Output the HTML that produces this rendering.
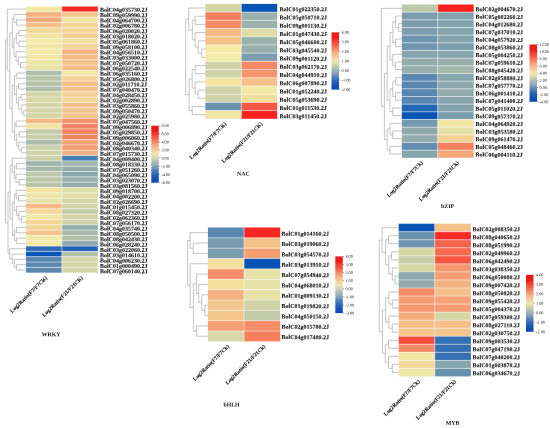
<!DOCTYPE html>
<html><head><meta charset="utf-8"><style>
html,body{margin:0;padding:0;background:#fff;width:550px;height:428px;overflow:hidden}
svg{filter:blur(0.3px)}
text{font-family:"Liberation Serif",serif;text-rendering:geometricPrecision}
.l{font-size:6px;font-weight:bold;fill:#111;stroke:#111;stroke-width:0.08}
.c{font-size:5.45px;font-weight:bold;fill:#111;stroke:#111;stroke-width:0.08}
.t{font-size:5.8px;font-weight:bold;fill:#111}
.g{font-size:4.2px;fill:#222}
</style></head><body>
<svg width="550" height="428" viewBox="0 0 550 428" style="display:block"><rect width="550" height="428" fill="#fff"/><defs><linearGradient id="gWRKY" x1="0" y1="0" x2="0" y2="1"><stop offset="0" stop-color="#ee1a1a"/><stop offset="0.1" stop-color="#f01c1c"/><stop offset="0.14" stop-color="#f23a2a"/><stop offset="0.22" stop-color="#f46048"/><stop offset="0.29" stop-color="#f58a68"/><stop offset="0.36" stop-color="#f5b088"/><stop offset="0.44" stop-color="#f4d0a0"/><stop offset="0.5" stop-color="#f0e6b0"/><stop offset="0.57" stop-color="#d0d4b0"/><stop offset="0.64" stop-color="#a8b8b8"/><stop offset="0.71" stop-color="#8aa4b8"/><stop offset="0.77" stop-color="#5c84bc"/><stop offset="0.85" stop-color="#2c64b8"/><stop offset="0.93" stop-color="#1450b4"/><stop offset="1.0" stop-color="#0848b0"/></linearGradient><linearGradient id="gNAC" x1="0" y1="0" x2="0" y2="1"><stop offset="0" stop-color="#ee1a1a"/><stop offset="0.1" stop-color="#f01c1c"/><stop offset="0.14" stop-color="#f23a2a"/><stop offset="0.22" stop-color="#f46048"/><stop offset="0.29" stop-color="#f58a68"/><stop offset="0.36" stop-color="#f5b088"/><stop offset="0.44" stop-color="#f4d0a0"/><stop offset="0.5" stop-color="#f0e6b0"/><stop offset="0.57" stop-color="#d0d4b0"/><stop offset="0.64" stop-color="#a8b8b8"/><stop offset="0.71" stop-color="#8aa4b8"/><stop offset="0.77" stop-color="#5c84bc"/><stop offset="0.85" stop-color="#2c64b8"/><stop offset="0.93" stop-color="#1450b4"/><stop offset="1.0" stop-color="#0848b0"/></linearGradient><linearGradient id="gbZIP" x1="0" y1="0" x2="0" y2="1"><stop offset="0" stop-color="#ee1a1a"/><stop offset="0.1" stop-color="#f01c1c"/><stop offset="0.14" stop-color="#f23a2a"/><stop offset="0.22" stop-color="#f46048"/><stop offset="0.29" stop-color="#f58a68"/><stop offset="0.36" stop-color="#f5b088"/><stop offset="0.44" stop-color="#f4d0a0"/><stop offset="0.5" stop-color="#f0e6b0"/><stop offset="0.57" stop-color="#d0d4b0"/><stop offset="0.64" stop-color="#a8b8b8"/><stop offset="0.71" stop-color="#8aa4b8"/><stop offset="0.77" stop-color="#5c84bc"/><stop offset="0.85" stop-color="#2c64b8"/><stop offset="0.93" stop-color="#1450b4"/><stop offset="1.0" stop-color="#0848b0"/></linearGradient><linearGradient id="gbHLH" x1="0" y1="0" x2="0" y2="1"><stop offset="0" stop-color="#ee1a1a"/><stop offset="0.1" stop-color="#f01c1c"/><stop offset="0.14" stop-color="#f23a2a"/><stop offset="0.22" stop-color="#f46048"/><stop offset="0.29" stop-color="#f58a68"/><stop offset="0.36" stop-color="#f5b088"/><stop offset="0.44" stop-color="#f4d0a0"/><stop offset="0.5" stop-color="#f0e6b0"/><stop offset="0.57" stop-color="#d0d4b0"/><stop offset="0.64" stop-color="#a8b8b8"/><stop offset="0.71" stop-color="#8aa4b8"/><stop offset="0.77" stop-color="#5c84bc"/><stop offset="0.85" stop-color="#2c64b8"/><stop offset="0.93" stop-color="#1450b4"/><stop offset="1.0" stop-color="#0848b0"/></linearGradient><linearGradient id="gMYB" x1="0" y1="0" x2="0" y2="1"><stop offset="0" stop-color="#ee1a1a"/><stop offset="0.1" stop-color="#f01c1c"/><stop offset="0.14" stop-color="#f23a2a"/><stop offset="0.22" stop-color="#f46048"/><stop offset="0.29" stop-color="#f58a68"/><stop offset="0.36" stop-color="#f5b088"/><stop offset="0.44" stop-color="#f4d0a0"/><stop offset="0.5" stop-color="#f0e6b0"/><stop offset="0.57" stop-color="#d0d4b0"/><stop offset="0.64" stop-color="#a8b8b8"/><stop offset="0.71" stop-color="#8aa4b8"/><stop offset="0.77" stop-color="#5c84bc"/><stop offset="0.85" stop-color="#2c64b8"/><stop offset="0.93" stop-color="#1450b4"/><stop offset="1.0" stop-color="#0848b0"/></linearGradient></defs><rect x="26.00" y="6.50" width="35.90" height="5.32" fill="#f3eaa6"/><rect x="61.90" y="6.50" width="35.90" height="5.32" fill="#f82623"/><rect x="26.00" y="11.82" width="35.90" height="5.32" fill="#f4b482"/><rect x="61.90" y="11.82" width="35.90" height="5.32" fill="#f4c58d"/><rect x="26.00" y="17.15" width="35.90" height="5.32" fill="#f4ac7d"/><rect x="61.90" y="17.15" width="35.90" height="5.32" fill="#f3e6a3"/><rect x="26.00" y="22.47" width="35.90" height="5.32" fill="#f4c18a"/><rect x="61.90" y="22.47" width="35.90" height="5.32" fill="#f4d598"/><rect x="26.00" y="27.80" width="35.90" height="5.32" fill="#f3da9b"/><rect x="61.90" y="27.80" width="35.90" height="5.32" fill="#f4d598"/><rect x="26.00" y="33.12" width="35.90" height="5.32" fill="#f3e4a2"/><rect x="61.90" y="33.12" width="35.90" height="5.32" fill="#f4cd93"/><rect x="26.00" y="38.44" width="35.90" height="5.32" fill="#f3eaa6"/><rect x="61.90" y="38.44" width="35.90" height="5.32" fill="#f3e09f"/><rect x="26.00" y="43.77" width="35.90" height="5.32" fill="#eee7a6"/><rect x="61.90" y="43.77" width="35.90" height="5.32" fill="#f4d598"/><rect x="26.00" y="49.09" width="35.90" height="5.32" fill="#f3eaa6"/><rect x="61.90" y="49.09" width="35.90" height="5.32" fill="#f4b07f"/><rect x="26.00" y="54.42" width="35.90" height="5.32" fill="#f3e6a3"/><rect x="61.90" y="54.42" width="35.90" height="5.32" fill="#f4b985"/><rect x="26.00" y="59.74" width="35.90" height="5.32" fill="#ece5a6"/><rect x="61.90" y="59.74" width="35.90" height="5.32" fill="#f4c18a"/><rect x="26.00" y="65.06" width="35.90" height="5.32" fill="#e7e2a7"/><rect x="61.90" y="65.06" width="35.90" height="5.32" fill="#f4bd88"/><rect x="26.00" y="70.39" width="35.90" height="5.32" fill="#b0bfaa"/><rect x="61.90" y="70.39" width="35.90" height="5.32" fill="#f3eaa6"/><rect x="26.00" y="75.71" width="35.90" height="5.32" fill="#b7c4aa"/><rect x="61.90" y="75.71" width="35.90" height="5.32" fill="#f4d598"/><rect x="26.00" y="81.04" width="35.90" height="5.32" fill="#b7c4aa"/><rect x="61.90" y="81.04" width="35.90" height="5.32" fill="#f4bd88"/><rect x="26.00" y="86.36" width="35.90" height="5.32" fill="#b2c0aa"/><rect x="61.90" y="86.36" width="35.90" height="5.32" fill="#f4c18a"/><rect x="26.00" y="91.68" width="35.90" height="5.32" fill="#d4d6a8"/><rect x="61.90" y="91.68" width="35.90" height="5.32" fill="#f4d195"/><rect x="26.00" y="97.01" width="35.90" height="5.32" fill="#d6d8a8"/><rect x="61.90" y="97.01" width="35.90" height="5.32" fill="#f3d79a"/><rect x="26.00" y="102.33" width="35.90" height="5.32" fill="#d4d6a8"/><rect x="61.90" y="102.33" width="35.90" height="5.32" fill="#f4c18a"/><rect x="26.00" y="107.66" width="35.90" height="5.32" fill="#d4d6a8"/><rect x="61.90" y="107.66" width="35.90" height="5.32" fill="#f4c58d"/><rect x="26.00" y="112.98" width="35.90" height="5.32" fill="#d4d6a8"/><rect x="61.90" y="112.98" width="35.90" height="5.32" fill="#f4c58d"/><rect x="26.00" y="118.30" width="35.90" height="5.32" fill="#f4b985"/><rect x="61.90" y="118.30" width="35.90" height="5.32" fill="#f5936c"/><rect x="26.00" y="123.63" width="35.90" height="5.32" fill="#f3e4a2"/><rect x="61.90" y="123.63" width="35.90" height="5.32" fill="#f68361"/><rect x="26.00" y="128.95" width="35.90" height="5.32" fill="#c3cba9"/><rect x="61.90" y="128.95" width="35.90" height="5.32" fill="#f67f5e"/><rect x="26.00" y="134.28" width="35.90" height="5.32" fill="#c8cea9"/><rect x="61.90" y="134.28" width="35.90" height="5.32" fill="#f58764"/><rect x="26.00" y="139.60" width="35.90" height="5.32" fill="#abbcab"/><rect x="61.90" y="139.60" width="35.90" height="5.32" fill="#f5a477"/><rect x="26.00" y="144.92" width="35.90" height="5.32" fill="#cad0a9"/><rect x="61.90" y="144.92" width="35.90" height="5.32" fill="#f59c72"/><rect x="26.00" y="150.25" width="35.90" height="5.32" fill="#cfd3a8"/><rect x="61.90" y="150.25" width="35.90" height="5.32" fill="#f4b281"/><rect x="26.00" y="155.57" width="35.90" height="5.32" fill="#cdd1a9"/><rect x="61.90" y="155.57" width="35.90" height="5.32" fill="#477bb2"/><rect x="26.00" y="160.90" width="35.90" height="5.32" fill="#9fb4ac"/><rect x="61.90" y="160.90" width="35.90" height="5.32" fill="#a2b6ab"/><rect x="26.00" y="166.22" width="35.90" height="5.32" fill="#a7b9ab"/><rect x="61.90" y="166.22" width="35.90" height="5.32" fill="#93acac"/><rect x="26.00" y="171.54" width="35.90" height="5.32" fill="#bec8aa"/><rect x="61.90" y="171.54" width="35.90" height="5.32" fill="#8aa6ad"/><rect x="26.00" y="176.87" width="35.90" height="5.32" fill="#bcc7aa"/><rect x="61.90" y="176.87" width="35.90" height="5.32" fill="#98afac"/><rect x="26.00" y="182.19" width="35.90" height="5.32" fill="#b7c4aa"/><rect x="61.90" y="182.19" width="35.90" height="5.32" fill="#93acac"/><rect x="26.00" y="187.52" width="35.90" height="5.32" fill="#f3e4a2"/><rect x="61.90" y="187.52" width="35.90" height="5.32" fill="#e0dea7"/><rect x="26.00" y="192.84" width="35.90" height="5.32" fill="#ece5a6"/><rect x="61.90" y="192.84" width="35.90" height="5.32" fill="#e2dfa7"/><rect x="26.00" y="198.16" width="35.90" height="5.32" fill="#e7e2a7"/><rect x="61.90" y="198.16" width="35.90" height="5.32" fill="#d4d6a8"/><rect x="26.00" y="203.49" width="35.90" height="5.32" fill="#f4b985"/><rect x="61.90" y="203.49" width="35.90" height="5.32" fill="#d2d4a8"/><rect x="26.00" y="208.81" width="35.90" height="5.32" fill="#f3da9b"/><rect x="61.90" y="208.81" width="35.90" height="5.32" fill="#c3cba9"/><rect x="26.00" y="214.14" width="35.90" height="5.32" fill="#f1e8a6"/><rect x="61.90" y="214.14" width="35.90" height="5.32" fill="#d2d4a8"/><rect x="26.00" y="219.46" width="35.90" height="5.32" fill="#f4d598"/><rect x="61.90" y="219.46" width="35.90" height="5.32" fill="#cdd1a9"/><rect x="26.00" y="224.78" width="35.90" height="5.32" fill="#f4d598"/><rect x="61.90" y="224.78" width="35.90" height="5.32" fill="#93acac"/><rect x="26.00" y="230.11" width="35.90" height="5.32" fill="#f4c58d"/><rect x="61.90" y="230.11" width="35.90" height="5.32" fill="#a7b9ab"/><rect x="26.00" y="235.43" width="35.90" height="5.32" fill="#f3eaa6"/><rect x="61.90" y="235.43" width="35.90" height="5.32" fill="#b0bfaa"/><rect x="26.00" y="240.76" width="35.90" height="5.32" fill="#f3eaa6"/><rect x="61.90" y="240.76" width="35.90" height="5.32" fill="#8fa9ad"/><rect x="26.00" y="246.08" width="35.90" height="5.32" fill="#2f6cb3"/><rect x="61.90" y="246.08" width="35.90" height="5.32" fill="#2162b4"/><rect x="26.00" y="251.40" width="35.90" height="5.32" fill="#0e56b5"/><rect x="61.90" y="251.40" width="35.90" height="5.32" fill="#b5c2aa"/><rect x="26.00" y="256.73" width="35.90" height="5.32" fill="#5886b0"/><rect x="61.90" y="256.73" width="35.90" height="5.32" fill="#d4d6a8"/><rect x="26.00" y="262.05" width="35.90" height="5.32" fill="#5c89b0"/><rect x="61.90" y="262.05" width="35.90" height="5.32" fill="#d4d6a8"/><rect x="26.00" y="267.38" width="35.90" height="5.32" fill="#5c89b0"/><rect x="61.90" y="267.38" width="35.90" height="5.32" fill="#d4d6a8"/><path d="M26.00,11.82H97.80M26.00,17.15H97.80M26.00,22.47H97.80M26.00,27.80H97.80M26.00,33.12H97.80M26.00,38.44H97.80M26.00,43.77H97.80M26.00,49.09H97.80M26.00,54.42H97.80M26.00,59.74H97.80M26.00,65.06H97.80M26.00,70.39H97.80M26.00,75.71H97.80M26.00,81.04H97.80M26.00,86.36H97.80M26.00,91.68H97.80M26.00,97.01H97.80M26.00,102.33H97.80M26.00,107.66H97.80M26.00,112.98H97.80M26.00,118.30H97.80M26.00,123.63H97.80M26.00,128.95H97.80M26.00,134.28H97.80M26.00,139.60H97.80M26.00,144.92H97.80M26.00,150.25H97.80M26.00,155.57H97.80M26.00,160.90H97.80M26.00,166.22H97.80M26.00,171.54H97.80M26.00,176.87H97.80M26.00,182.19H97.80M26.00,187.52H97.80M26.00,192.84H97.80M26.00,198.16H97.80M26.00,203.49H97.80M26.00,208.81H97.80M26.00,214.14H97.80M26.00,219.46H97.80M26.00,224.78H97.80M26.00,230.11H97.80M26.00,235.43H97.80M26.00,240.76H97.80M26.00,246.08H97.80M26.00,251.40H97.80M26.00,256.73H97.80M26.00,262.05H97.80M26.00,267.38H97.80M61.90,6.50V272.70" stroke="#fff" stroke-opacity="0.6" stroke-width="0.8" fill="none"/><text transform="translate(99.90,11.75) matrix(1,0.002,0,1,0,0)" class="l">BolC04g035730.2J</text><text transform="translate(99.90,17.09) matrix(1,0.002,0,1,0,0)" class="l">BolC09g059990.2J</text><text transform="translate(99.90,22.43) matrix(1,0.002,0,1,0,0)" class="l">BolC04g064700.2J</text><text transform="translate(99.90,27.76) matrix(1,0.002,0,1,0,0)" class="l">BolC02g006780.2J</text><text transform="translate(99.90,33.10) matrix(1,0.002,0,1,0,0)" class="l">BolC06g020020.2J</text><text transform="translate(99.90,38.44) matrix(1,0.002,0,1,0,0)" class="l">BolC03g018020.2J</text><text transform="translate(99.90,43.78) matrix(1,0.002,0,1,0,0)" class="l">BolC05g061860.2J</text><text transform="translate(99.90,49.11) matrix(1,0.002,0,1,0,0)" class="l">BolC09g058100.2J</text><text transform="translate(99.90,54.45) matrix(1,0.002,0,1,0,0)" class="l">BolC04g056510.2J</text><text transform="translate(99.90,59.79) matrix(1,0.002,0,1,0,0)" class="l">BolC03g033000.2J</text><text transform="translate(99.90,65.13) matrix(1,0.002,0,1,0,0)" class="l">BolC07g050720.2J</text><text transform="translate(99.90,70.47) matrix(1,0.002,0,1,0,0)" class="l">BolC06g022540.2J</text><text transform="translate(99.90,75.80) matrix(1,0.002,0,1,0,0)" class="l">BolC06g035160.2J</text><text transform="translate(99.90,81.14) matrix(1,0.002,0,1,0,0)" class="l">BolC05g026800.2J</text><text transform="translate(99.90,86.48) matrix(1,0.002,0,1,0,0)" class="l">BolC02g011710.2J</text><text transform="translate(99.90,91.82) matrix(1,0.002,0,1,0,0)" class="l">BolC07g040470.2J</text><text transform="translate(99.90,97.15) matrix(1,0.002,0,1,0,0)" class="l">BolC04g028450.2J</text><text transform="translate(99.90,102.49) matrix(1,0.002,0,1,0,0)" class="l">BolC02g002890.2J</text><text transform="translate(99.90,107.83) matrix(1,0.002,0,1,0,0)" class="l">BolC03g055860.2J</text><text transform="translate(99.90,113.17) matrix(1,0.002,0,1,0,0)" class="l">BolC09g050470.2J</text><text transform="translate(99.90,118.51) matrix(1,0.002,0,1,0,0)" class="l">BolC02g025980.2J</text><text transform="translate(99.90,123.84) matrix(1,0.002,0,1,0,0)" class="l">BolC07g047560.2J</text><text transform="translate(99.90,129.18) matrix(1,0.002,0,1,0,0)" class="l">BolC09g006890.2J</text><text transform="translate(99.90,134.52) matrix(1,0.002,0,1,0,0)" class="l">BolC05g029850.2J</text><text transform="translate(99.90,139.86) matrix(1,0.002,0,1,0,0)" class="l">BolC09g006060.2J</text><text transform="translate(99.90,145.19) matrix(1,0.002,0,1,0,0)" class="l">BolC02g046670.2J</text><text transform="translate(99.90,150.53) matrix(1,0.002,0,1,0,0)" class="l">BolC08g040340.2J</text><text transform="translate(99.90,155.87) matrix(1,0.002,0,1,0,0)" class="l">BolC07g015730.2J</text><text transform="translate(99.90,161.21) matrix(1,0.002,0,1,0,0)" class="l">BolC04g009400.2J</text><text transform="translate(99.90,166.54) matrix(1,0.002,0,1,0,0)" class="l">BolC08g018330.2J</text><text transform="translate(99.90,171.88) matrix(1,0.002,0,1,0,0)" class="l">BolC07g051260.2J</text><text transform="translate(99.90,177.22) matrix(1,0.002,0,1,0,0)" class="l">BolC04g065090.2J</text><text transform="translate(99.90,182.56) matrix(1,0.002,0,1,0,0)" class="l">BolC03g023070.2J</text><text transform="translate(99.90,187.90) matrix(1,0.002,0,1,0,0)" class="l">BolC03g081560.2J</text><text transform="translate(99.90,193.23) matrix(1,0.002,0,1,0,0)" class="l">BolC09g018700.2J</text><text transform="translate(99.90,198.57) matrix(1,0.002,0,1,0,0)" class="l">BolC04g002200.2J</text><text transform="translate(99.90,203.91) matrix(1,0.002,0,1,0,0)" class="l">BolC02g026690.2J</text><text transform="translate(99.90,209.25) matrix(1,0.002,0,1,0,0)" class="l">BolC01g015450.2J</text><text transform="translate(99.90,214.58) matrix(1,0.002,0,1,0,0)" class="l">BolC08g027320.2J</text><text transform="translate(99.90,219.92) matrix(1,0.002,0,1,0,0)" class="l">BolC02g062360.2J</text><text transform="translate(99.90,225.26) matrix(1,0.002,0,1,0,0)" class="l">BolC07g056170.2J</text><text transform="translate(99.90,230.60) matrix(1,0.002,0,1,0,0)" class="l">BolC04g035740.2J</text><text transform="translate(99.90,235.94) matrix(1,0.002,0,1,0,0)" class="l">BolC08g050500.2J</text><text transform="translate(99.90,241.27) matrix(1,0.002,0,1,0,0)" class="l">BolC08g042430.2J</text><text transform="translate(99.90,246.61) matrix(1,0.002,0,1,0,0)" class="l">BolC06g028240.2J</text><text transform="translate(99.90,251.95) matrix(1,0.002,0,1,0,0)" class="l">BolC03g022060.2J</text><text transform="translate(99.90,257.29) matrix(1,0.002,0,1,0,0)" class="l">BolC03g014610.2J</text><text transform="translate(99.90,262.62) matrix(1,0.002,0,1,0,0)" class="l">BolC04g006230.2J</text><text transform="translate(99.90,267.96) matrix(1,0.002,0,1,0,0)" class="l">BolC01g000490.2J</text><text transform="translate(99.90,273.30) matrix(1,0.002,0,1,0,0)" class="l">BolC07g060140.2J</text><path d="M16.50,19.81H26.00M16.50,25.13H26.00M16.50,19.81V25.13M14.00,14.49H26.00M14.00,22.47H16.50M14.00,14.49V22.47M18.90,30.46H26.00M18.90,35.78H26.00M18.90,30.46V35.78M18.90,41.11H26.00M18.90,46.43H26.00M18.90,41.11V46.43M16.30,33.12H18.90M16.30,43.77H18.90M16.30,33.12V43.77M20.60,62.40H26.00M20.60,67.73H26.00M20.60,62.40V67.73M18.20,57.08H26.00M18.20,65.06H20.60M18.20,57.08V65.06M16.00,51.75H26.00M16.00,61.07H18.20M16.00,51.75V61.07M14.00,38.44H16.30M14.00,56.41H16.00M14.00,38.44V56.41M12.30,18.48H14.00M12.30,47.43H14.00M12.30,18.48V47.43M16.80,73.05H26.00M16.80,78.37H26.00M16.80,73.05V78.37M18.50,83.70H26.00M18.50,89.02H26.00M18.50,83.70V89.02M21.10,94.35H26.00M21.10,99.67H26.00M21.10,94.35V99.67M23.80,110.32H26.00M23.80,115.64H26.00M23.80,110.32V115.64M21.70,104.99H26.00M21.70,112.98H23.80M21.70,104.99V112.98M18.50,97.01H21.10M18.50,108.99H21.70M18.50,97.01V108.99M16.40,86.36H18.50M16.40,103.00H18.50M16.40,86.36V103.00M14.50,75.71H16.80M14.50,94.68H16.40M14.50,75.71V94.68M16.00,120.97H26.00M16.00,126.29H26.00M16.00,120.97V126.29M19.30,131.61H26.00M19.30,136.94H26.00M19.30,131.61V136.94M21.40,147.59H26.00M21.40,152.91H26.00M21.40,147.59V152.91M18.90,142.26H26.00M18.90,150.25H21.40M18.90,142.26V150.25M16.80,134.28H19.30M16.80,146.25H18.90M16.80,134.28V146.25M14.70,123.63H16.00M14.70,140.27H16.80M14.70,123.63V140.27M12.20,85.20H14.50M12.20,131.95H14.70M12.20,85.20V131.95M9.80,32.95H12.30M9.80,108.57H12.20M9.80,32.95V108.57M7.30,9.16H26.00M7.30,70.76H9.80M7.30,9.16V70.76M16.40,163.56H26.00M16.40,168.88H26.00M16.40,163.56V168.88M19.30,179.53H26.00M19.30,184.85H26.00M19.30,179.53V184.85M16.00,174.21H26.00M16.00,182.19H19.30M16.00,174.21V182.19M14.30,166.22H16.40M14.30,178.20H16.00M14.30,166.22V178.20M12.20,158.23H26.00M12.20,172.21H14.30M12.20,158.23V172.21M18.60,195.50H26.00M18.60,200.83H26.00M18.60,195.50V200.83M16.20,190.18H26.00M16.20,198.16H18.60M16.20,190.18V198.16M21.40,216.80H26.00M21.40,222.12H26.00M21.40,216.80V222.12M18.90,211.47H26.00M18.90,219.46H21.40M18.90,211.47V219.46M16.50,206.15H26.00M16.50,215.47H18.90M16.50,206.15V215.47M14.30,194.17H16.20M14.30,210.81H16.50M14.30,194.17V210.81M16.40,227.45H26.00M16.40,232.77H26.00M16.40,227.45V232.77M16.40,238.09H26.00M16.40,243.42H26.00M16.40,238.09V243.42M14.50,230.11H16.40M14.50,240.76H16.40M14.50,230.11V240.76M12.40,202.49H14.30M12.40,235.43H14.50M12.40,202.49V235.43M10.10,165.22H12.20M10.10,218.96H12.40M10.10,165.22V218.96M16.40,264.71H26.00M16.40,270.04H26.00M16.40,264.71V270.04M14.30,259.39H26.00M14.30,267.38H16.40M14.30,259.39V267.38M12.20,254.07H26.00M12.20,263.38H14.30M12.20,254.07V263.38M9.70,248.74H26.00M9.70,258.72H12.20M9.70,248.74V258.72M8.00,192.09H10.10M8.00,253.73H9.70M8.00,192.09V253.73M5.50,39.96H7.30M5.50,222.91H8.00M5.50,39.96V222.91" stroke="#b0b0b0" stroke-width="0.75" fill="none"/><text transform="translate(47.45,278.10) rotate(-45)" text-anchor="end" class="c">Log2Ratio(F7/F7CK)</text><text transform="translate(83.35,278.10) rotate(-45)" text-anchor="end" class="c">Log2Ratio(F21/F21CK)</text><text transform="translate(51.00,336.30) matrix(1,0.002,0,1,0,0)" text-anchor="middle" class="t">WRKY</text><rect x="151.30" y="125.70" width="7.5" height="57.00" fill="url(#gWRKY)"/><text transform="translate(161.40,127.10) matrix(1,0.002,0,1,0,0)" class="g">8.00</text><text transform="translate(161.40,135.24) matrix(1,0.002,0,1,0,0)" class="g">6.00</text><text transform="translate(161.40,143.39) matrix(1,0.002,0,1,0,0)" class="g">4.00</text><text transform="translate(161.40,151.53) matrix(1,0.002,0,1,0,0)" class="g">2.00</text><text transform="translate(161.40,159.67) matrix(1,0.002,0,1,0,0)" class="g">0.00</text><text transform="translate(161.40,167.81) matrix(1,0.002,0,1,0,0)" class="g">-2.00</text><text transform="translate(161.40,175.96) matrix(1,0.002,0,1,0,0)" class="g">-4.00</text><text transform="translate(161.40,184.10) matrix(1,0.002,0,1,0,0)" class="g">-6.00</text><path d="M158.80,125.70h1.2M158.80,133.84h1.2M158.80,141.99h1.2M158.80,150.13h1.2M158.80,158.27h1.2M158.80,166.41h1.2M158.80,174.56h1.2M158.80,182.70h1.2" stroke="#555" stroke-width="0.5"/><rect x="205.40" y="3.90" width="35.90" height="8.21" fill="#d4d6a8"/><rect x="241.30" y="3.90" width="35.90" height="8.21" fill="#0953b6"/><rect x="205.40" y="12.11" width="35.90" height="8.21" fill="#f67d5d"/><rect x="241.30" y="12.11" width="35.90" height="8.21" fill="#9bb1ac"/><rect x="205.40" y="20.31" width="35.90" height="8.21" fill="#f58b67"/><rect x="241.30" y="20.31" width="35.90" height="8.21" fill="#9bb1ac"/><rect x="205.40" y="28.52" width="35.90" height="8.21" fill="#f4b985"/><rect x="241.30" y="28.52" width="35.90" height="8.21" fill="#e0dea7"/><rect x="205.40" y="36.73" width="35.90" height="8.21" fill="#f4c18a"/><rect x="241.30" y="36.73" width="35.90" height="8.21" fill="#9bb1ac"/><rect x="205.40" y="44.94" width="35.90" height="8.21" fill="#f3eaa6"/><rect x="241.30" y="44.94" width="35.90" height="8.21" fill="#98afac"/><rect x="205.40" y="53.14" width="35.90" height="8.21" fill="#f3eaa6"/><rect x="241.30" y="53.14" width="35.90" height="8.21" fill="#7c9dae"/><rect x="205.40" y="61.35" width="35.90" height="8.21" fill="#cfd3a8"/><rect x="241.30" y="61.35" width="35.90" height="8.21" fill="#f58965"/><rect x="205.40" y="69.56" width="35.90" height="8.21" fill="#cfd3a8"/><rect x="241.30" y="69.56" width="35.90" height="8.21" fill="#f5936c"/><rect x="205.40" y="77.76" width="35.90" height="8.21" fill="#f3e4a2"/><rect x="241.30" y="77.76" width="35.90" height="8.21" fill="#f4c18a"/><rect x="205.40" y="85.97" width="35.90" height="8.21" fill="#cfd3a8"/><rect x="241.30" y="85.97" width="35.90" height="8.21" fill="#f3eaa6"/><rect x="205.40" y="94.18" width="35.90" height="8.21" fill="#cfd3a8"/><rect x="241.30" y="94.18" width="35.90" height="8.21" fill="#f3e09f"/><rect x="205.40" y="102.39" width="35.90" height="8.21" fill="#6891af"/><rect x="241.30" y="102.39" width="35.90" height="8.21" fill="#f75643"/><rect x="205.40" y="110.59" width="35.90" height="8.21" fill="#eee7a6"/><rect x="241.30" y="110.59" width="35.90" height="8.21" fill="#f82220"/><path d="M205.40,12.11H277.20M205.40,20.31H277.20M205.40,28.52H277.20M205.40,36.73H277.20M205.40,44.94H277.20M205.40,53.14H277.20M205.40,61.35H277.20M205.40,69.56H277.20M205.40,77.76H277.20M205.40,85.97H277.20M205.40,94.18H277.20M205.40,102.39H277.20M205.40,110.59H277.20M241.30,3.90V118.80" stroke="#fff" stroke-opacity="0.6" stroke-width="0.8" fill="none"/><text transform="translate(279.50,11.20) matrix(1,0.002,0,1,0,0)" class="l">BolC01g022350.2J</text><text transform="translate(279.50,19.43) matrix(1,0.002,0,1,0,0)" class="l">BolC05g050710.2J</text><text transform="translate(279.50,27.66) matrix(1,0.002,0,1,0,0)" class="l">BolC09g001130.2J</text><text transform="translate(279.50,35.89) matrix(1,0.002,0,1,0,0)" class="l">BolC01g047430.2J</text><text transform="translate(279.50,44.12) matrix(1,0.002,0,1,0,0)" class="l">BolC05g046600.2J</text><text transform="translate(279.50,52.35) matrix(1,0.002,0,1,0,0)" class="l">BolC03g045540.2J</text><text transform="translate(279.50,60.58) matrix(1,0.002,0,1,0,0)" class="l">BolC09g001120.2J</text><text transform="translate(279.50,68.82) matrix(1,0.002,0,1,0,0)" class="l">BolC03g062170.2J</text><text transform="translate(279.50,77.05) matrix(1,0.002,0,1,0,0)" class="l">BolC04g044910.2J</text><text transform="translate(279.50,85.28) matrix(1,0.002,0,1,0,0)" class="l">BolC06g007890.2J</text><text transform="translate(279.50,93.51) matrix(1,0.002,0,1,0,0)" class="l">BolC01g052240.2J</text><text transform="translate(279.50,101.74) matrix(1,0.002,0,1,0,0)" class="l">BolC05g053690.2J</text><text transform="translate(279.50,109.97) matrix(1,0.002,0,1,0,0)" class="l">BolC01g011530.2J</text><text transform="translate(279.50,118.20) matrix(1,0.002,0,1,0,0)" class="l">BolC03g011450.2J</text><path d="M195.10,16.21H205.40M195.10,24.42H205.40M195.10,16.21V24.42M201.70,49.04H205.40M201.70,57.25H205.40M201.70,49.04V57.25M198.20,40.83H205.40M198.20,53.14H201.70M198.20,40.83V53.14M195.10,32.62H205.40M195.10,46.99H198.20M195.10,32.62V46.99M192.30,20.31H195.10M192.30,39.81H195.10M192.30,20.31V39.81M188.70,8.00H205.40M188.70,30.06H192.30M188.70,8.00V30.06M195.20,65.45H205.40M195.20,73.66H205.40M195.20,65.45V73.66M198.20,90.08H205.40M198.20,98.28H205.40M198.20,90.08V98.28M195.20,81.87H205.40M195.20,94.18H198.20M195.20,81.87V94.18M192.20,69.56H195.20M192.20,88.02H195.20M192.20,69.56V88.02M192.20,106.49H205.40M192.20,114.70H205.40M192.20,106.49V114.70M189.10,78.79H192.20M189.10,110.59H192.20M189.10,78.79V110.59M185.70,19.03H188.70M185.70,94.69H189.10M185.70,19.03V94.69" stroke="#b0b0b0" stroke-width="0.75" fill="none"/><text transform="translate(226.85,124.20) rotate(-45)" text-anchor="end" class="c">Log2Ratio(F7/F7CK)</text><text transform="translate(262.75,124.20) rotate(-45)" text-anchor="end" class="c">Log2Ratio(F21/F21CK)</text><text transform="translate(243.40,175.60) matrix(1,0.002,0,1,0,0)" text-anchor="middle" class="t">NAC</text><rect x="331.50" y="32.40" width="7.5" height="57.20" fill="url(#gNAC)"/><text transform="translate(341.60,33.80) matrix(1,0.002,0,1,0,0)" class="g">4.00</text><text transform="translate(341.60,43.33) matrix(1,0.002,0,1,0,0)" class="g">3.00</text><text transform="translate(341.60,52.87) matrix(1,0.002,0,1,0,0)" class="g">2.00</text><text transform="translate(341.60,62.40) matrix(1,0.002,0,1,0,0)" class="g">1.00</text><text transform="translate(341.60,71.93) matrix(1,0.002,0,1,0,0)" class="g">0.00</text><text transform="translate(341.60,81.47) matrix(1,0.002,0,1,0,0)" class="g">-1.00</text><text transform="translate(341.60,91.00) matrix(1,0.002,0,1,0,0)" class="g">-2.00</text><path d="M339.00,32.40h1.2M339.00,41.93h1.2M339.00,51.47h1.2M339.00,61.00h1.2M339.00,70.53h1.2M339.00,80.07h1.2M339.00,89.60h1.2" stroke="#555" stroke-width="0.5"/><rect x="401.80" y="4.50" width="35.95" height="7.67" fill="#bec8aa"/><rect x="437.75" y="4.50" width="35.95" height="7.67" fill="#f82220"/><rect x="401.80" y="12.17" width="35.95" height="7.67" fill="#7c9dae"/><rect x="437.75" y="12.17" width="35.95" height="7.67" fill="#83a2ae"/><rect x="401.80" y="19.83" width="35.95" height="7.67" fill="#7c9dae"/><rect x="437.75" y="19.83" width="35.95" height="7.67" fill="#83a2ae"/><rect x="401.80" y="27.50" width="35.95" height="7.67" fill="#7c9dae"/><rect x="437.75" y="27.50" width="35.95" height="7.67" fill="#85a3ad"/><rect x="401.80" y="35.16" width="35.95" height="7.67" fill="#7095af"/><rect x="437.75" y="35.16" width="35.95" height="7.67" fill="#83a2ae"/><rect x="401.80" y="42.83" width="35.95" height="7.67" fill="#7095af"/><rect x="437.75" y="42.83" width="35.95" height="7.67" fill="#7c9dae"/><rect x="401.80" y="50.49" width="35.95" height="7.67" fill="#87a5ad"/><rect x="437.75" y="50.49" width="35.95" height="7.67" fill="#87a5ad"/><rect x="401.80" y="58.16" width="35.95" height="7.67" fill="#93acac"/><rect x="437.75" y="58.16" width="35.95" height="7.67" fill="#98afac"/><rect x="401.80" y="65.82" width="35.95" height="7.67" fill="#98afac"/><rect x="437.75" y="65.82" width="35.95" height="7.67" fill="#a4b7ab"/><rect x="401.80" y="73.49" width="35.95" height="7.67" fill="#5a87b0"/><rect x="437.75" y="73.49" width="35.95" height="7.67" fill="#87a5ad"/><rect x="401.80" y="81.15" width="35.95" height="7.67" fill="#5a87b0"/><rect x="437.75" y="81.15" width="35.95" height="7.67" fill="#8ca8ad"/><rect x="401.80" y="88.82" width="35.95" height="7.67" fill="#5a87b0"/><rect x="437.75" y="88.82" width="35.95" height="7.67" fill="#91abad"/><rect x="401.80" y="96.48" width="35.95" height="7.67" fill="#5886b0"/><rect x="437.75" y="96.48" width="35.95" height="7.67" fill="#87a5ad"/><rect x="401.80" y="104.15" width="35.95" height="7.67" fill="#2566b4"/><rect x="437.75" y="104.15" width="35.95" height="7.67" fill="#83a2ae"/><rect x="401.80" y="111.81" width="35.95" height="7.67" fill="#0b55b6"/><rect x="437.75" y="111.81" width="35.95" height="7.67" fill="#7c9dae"/><rect x="401.80" y="119.48" width="35.95" height="7.67" fill="#7498ae"/><rect x="437.75" y="119.48" width="35.95" height="7.67" fill="#f3e6a3"/><rect x="401.80" y="127.14" width="35.95" height="7.67" fill="#8fa9ad"/><rect x="437.75" y="127.14" width="35.95" height="7.67" fill="#e5e1a7"/><rect x="401.80" y="134.81" width="35.95" height="7.67" fill="#93acac"/><rect x="437.75" y="134.81" width="35.95" height="7.67" fill="#f4d195"/><rect x="401.80" y="142.47" width="35.95" height="7.67" fill="#648eb0"/><rect x="437.75" y="142.47" width="35.95" height="7.67" fill="#f67f5e"/><rect x="401.80" y="150.14" width="35.95" height="7.67" fill="#87a5ad"/><rect x="437.75" y="150.14" width="35.95" height="7.67" fill="#f5a87a"/><path d="M401.80,12.17H473.70M401.80,19.83H473.70M401.80,27.50H473.70M401.80,35.16H473.70M401.80,42.83H473.70M401.80,50.49H473.70M401.80,58.16H473.70M401.80,65.82H473.70M401.80,73.49H473.70M401.80,81.15H473.70M401.80,88.82H473.70M401.80,96.48H473.70M401.80,104.15H473.70M401.80,111.81H473.70M401.80,119.48H473.70M401.80,127.14H473.70M401.80,134.81H473.70M401.80,142.47H473.70M401.80,150.14H473.70M437.75,4.50V157.80" stroke="#fff" stroke-opacity="0.6" stroke-width="0.8" fill="none"/><text transform="translate(475.60,11.20) matrix(1,0.002,0,1,0,0)" class="l">BolC02g004670.2J</text><text transform="translate(475.60,18.85) matrix(1,0.002,0,1,0,0)" class="l">BolC05g002260.2J</text><text transform="translate(475.60,26.51) matrix(1,0.002,0,1,0,0)" class="l">BolC04g012680.2J</text><text transform="translate(475.60,34.16) matrix(1,0.002,0,1,0,0)" class="l">BolC07g037010.2J</text><text transform="translate(475.60,41.81) matrix(1,0.002,0,1,0,0)" class="l">BolC04g057920.2J</text><text transform="translate(475.60,49.46) matrix(1,0.002,0,1,0,0)" class="l">BolC08g053860.2J</text><text transform="translate(475.60,57.12) matrix(1,0.002,0,1,0,0)" class="l">BolC05g004250.2J</text><text transform="translate(475.60,64.77) matrix(1,0.002,0,1,0,0)" class="l">BolC07g059610.2J</text><text transform="translate(475.60,72.42) matrix(1,0.002,0,1,0,0)" class="l">BolC08g045420.2J</text><text transform="translate(475.60,80.07) matrix(1,0.002,0,1,0,0)" class="l">BolC02g058880.2J</text><text transform="translate(475.60,87.73) matrix(1,0.002,0,1,0,0)" class="l">BolC07g057770.2J</text><text transform="translate(475.60,95.38) matrix(1,0.002,0,1,0,0)" class="l">BolC06g001410.2J</text><text transform="translate(475.60,103.03) matrix(1,0.002,0,1,0,0)" class="l">BolC07g041400.2J</text><text transform="translate(475.60,110.68) matrix(1,0.002,0,1,0,0)" class="l">BolC05g011020.2J</text><text transform="translate(475.60,118.34) matrix(1,0.002,0,1,0,0)" class="l">BolC09g057370.2J</text><text transform="translate(475.60,125.99) matrix(1,0.002,0,1,0,0)" class="l">BolC04g064920.2J</text><text transform="translate(475.60,133.64) matrix(1,0.002,0,1,0,0)" class="l">BolC03g053580.2J</text><text transform="translate(475.60,141.29) matrix(1,0.002,0,1,0,0)" class="l">BolC09g061470.2J</text><text transform="translate(475.60,148.95) matrix(1,0.002,0,1,0,0)" class="l">BolC05g048460.2J</text><text transform="translate(475.60,156.60) matrix(1,0.002,0,1,0,0)" class="l">BolC06g004110.2J</text><path d="M398.40,23.66H401.80M398.40,31.33H401.80M398.40,23.66V31.33M395.60,16.00H401.80M395.60,27.50H398.40M395.60,16.00V27.50M395.60,38.99H401.80M395.60,46.66H401.80M395.60,38.99V46.66M392.80,21.75H395.60M392.80,42.83H395.60M392.80,21.75V42.83M395.60,61.99H401.80M395.60,69.65H401.80M395.60,61.99V69.65M392.80,54.32H401.80M392.80,65.82H395.60M392.80,54.32V65.82M390.00,32.29H392.80M390.00,60.07H392.80M390.00,32.29V60.07M395.60,77.32H401.80M395.60,84.98H401.80M395.60,77.32V84.98M395.60,92.65H401.80M395.60,100.31H401.80M395.60,92.65V100.31M392.80,81.15H395.60M392.80,96.48H395.60M392.80,81.15V96.48M392.80,107.98H401.80M392.80,115.64H401.80M392.80,107.98V115.64M390.00,88.82H392.80M390.00,111.81H392.80M390.00,88.82V111.81M387.20,46.18H390.00M387.20,100.31H390.00M387.20,46.18V100.31M392.80,130.97H401.80M392.80,138.64H401.80M392.80,130.97V138.64M390.00,123.31H401.80M390.00,134.81H392.80M390.00,123.31V134.81M390.00,146.30H401.80M390.00,153.97H401.80M390.00,146.30V153.97M387.20,129.06H390.00M387.20,150.14H390.00M387.20,129.06V150.14M384.40,73.25H387.20M384.40,139.60H387.20M384.40,73.25V139.60M381.30,8.33H401.80M381.30,106.42H384.40M381.30,8.33V106.42" stroke="#b0b0b0" stroke-width="0.75" fill="none"/><text transform="translate(423.27,163.20) rotate(-45)" text-anchor="end" class="c">Log2Ratio(F7/F7Ck)</text><text transform="translate(459.23,163.20) rotate(-45)" text-anchor="end" class="c">Log2Ratio(F21/F21Ck)</text><text transform="translate(447.50,208.10) matrix(1,0.002,0,1,0,0)" text-anchor="middle" class="t">bZIP</text><rect x="529.50" y="44.50" width="7.5" height="57.30" fill="url(#gbZIP)"/><text transform="translate(539.60,45.90) matrix(1,0.002,0,1,0,0)" class="g">12.00</text><text transform="translate(539.60,53.06) matrix(1,0.002,0,1,0,0)" class="g">10.00</text><text transform="translate(539.60,60.23) matrix(1,0.002,0,1,0,0)" class="g">8.00</text><text transform="translate(539.60,67.39) matrix(1,0.002,0,1,0,0)" class="g">6.00</text><text transform="translate(539.60,74.55) matrix(1,0.002,0,1,0,0)" class="g">4.00</text><text transform="translate(539.60,81.71) matrix(1,0.002,0,1,0,0)" class="g">2.00</text><text transform="translate(539.60,88.88) matrix(1,0.002,0,1,0,0)" class="g">0.00</text><text transform="translate(539.60,96.04) matrix(1,0.002,0,1,0,0)" class="g">-2.00</text><text transform="translate(539.60,103.20) matrix(1,0.002,0,1,0,0)" class="g">-4.00</text><path d="M537.00,44.50h1.2M537.00,51.66h1.2M537.00,58.83h1.2M537.00,65.99h1.2M537.00,73.15h1.2M537.00,80.31h1.2M537.00,87.47h1.2M537.00,94.64h1.2M537.00,101.80h1.2" stroke="#555" stroke-width="0.5"/><rect x="207.90" y="227.50" width="36.15" height="10.35" fill="#5a87b0"/><rect x="244.05" y="227.50" width="36.15" height="10.35" fill="#f82623"/><rect x="207.90" y="237.85" width="36.15" height="10.35" fill="#7c9dae"/><rect x="244.05" y="237.85" width="36.15" height="10.35" fill="#f4c18a"/><rect x="207.90" y="248.21" width="36.15" height="10.35" fill="#7c9dae"/><rect x="244.05" y="248.21" width="36.15" height="10.35" fill="#f5a074"/><rect x="207.90" y="258.56" width="36.15" height="10.35" fill="#f3e09f"/><rect x="244.05" y="258.56" width="36.15" height="10.35" fill="#0953b6"/><rect x="207.90" y="268.92" width="36.15" height="10.35" fill="#f58d68"/><rect x="244.05" y="268.92" width="36.15" height="10.35" fill="#e7e2a7"/><rect x="207.90" y="279.27" width="36.15" height="10.35" fill="#f3e09f"/><rect x="244.05" y="279.27" width="36.15" height="10.35" fill="#e7e2a7"/><rect x="207.90" y="289.63" width="36.15" height="10.35" fill="#f4b281"/><rect x="244.05" y="289.63" width="36.15" height="10.35" fill="#e7e2a7"/><rect x="207.90" y="299.98" width="36.15" height="10.35" fill="#f4c78f"/><rect x="244.05" y="299.98" width="36.15" height="10.35" fill="#cfd3a8"/><rect x="207.90" y="310.34" width="36.15" height="10.35" fill="#f4c78f"/><rect x="244.05" y="310.34" width="36.15" height="10.35" fill="#c3cba9"/><rect x="207.90" y="320.69" width="36.15" height="10.35" fill="#f59e73"/><rect x="244.05" y="320.69" width="36.15" height="10.35" fill="#f58d68"/><rect x="207.90" y="331.05" width="36.15" height="10.35" fill="#d6d8a8"/><rect x="244.05" y="331.05" width="36.15" height="10.35" fill="#f67f5e"/><path d="M207.90,237.85H280.20M207.90,248.21H280.20M207.90,258.56H280.20M207.90,268.92H280.20M207.90,279.27H280.20M207.90,289.63H280.20M207.90,299.98H280.20M207.90,310.34H280.20M207.90,320.69H280.20M207.90,331.05H280.20M244.05,227.50V341.40" stroke="#fff" stroke-opacity="0.6" stroke-width="0.8" fill="none"/><text transform="translate(281.60,235.70) matrix(1,0.002,0,1,0,0)" class="l">BolC01g014160.2J</text><text transform="translate(281.60,246.04) matrix(1,0.002,0,1,0,0)" class="l">BolC03g019060.2J</text><text transform="translate(281.60,256.38) matrix(1,0.002,0,1,0,0)" class="l">BolC03g054570.2J</text><text transform="translate(281.60,266.72) matrix(1,0.002,0,1,0,0)" class="l">BolC03g013910.2J</text><text transform="translate(281.60,277.06) matrix(1,0.002,0,1,0,0)" class="l">BolC07g054940.2J</text><text transform="translate(281.60,287.40) matrix(1,0.002,0,1,0,0)" class="l">BolC04g068010.2J</text><text transform="translate(281.60,297.74) matrix(1,0.002,0,1,0,0)" class="l">BolC01g009130.2J</text><text transform="translate(281.60,308.08) matrix(1,0.002,0,1,0,0)" class="l">BolC01g019820.2J</text><text transform="translate(281.60,318.42) matrix(1,0.002,0,1,0,0)" class="l">BolC04g050150.2J</text><text transform="translate(281.60,328.76) matrix(1,0.002,0,1,0,0)" class="l">BolC02g015780.2J</text><text transform="translate(281.60,339.10) matrix(1,0.002,0,1,0,0)" class="l">BolC04g017480.2J</text><path d="M193.20,243.03H207.90M193.20,253.39H207.90M193.20,243.03V253.39M190.10,232.68H207.90M190.10,248.21H193.20M190.10,232.68V248.21M204.80,305.16H207.90M204.80,315.51H207.90M204.80,305.16V315.51M201.80,294.80H207.90M201.80,310.34H204.80M201.80,294.80V310.34M198.70,284.45H207.90M198.70,302.57H201.80M198.70,284.45V302.57M196.40,274.10H207.90M196.40,293.51H198.70M196.40,274.10V293.51M196.40,325.87H207.90M196.40,336.22H207.90M196.40,325.87V336.22M193.40,283.80H196.40M193.40,331.05H196.40M193.40,283.80V331.05M190.10,263.74H207.90M190.10,307.42H193.40M190.10,263.74V307.42M187.60,240.44H190.10M187.60,285.58H190.10M187.60,240.44V285.58" stroke="#b0b0b0" stroke-width="0.75" fill="none"/><text transform="translate(229.47,346.80) rotate(-45)" text-anchor="end" class="c">Log2Ratio(F7/F7Ck)</text><text transform="translate(265.62,346.80) rotate(-45)" text-anchor="end" class="c">Log2Ratio(F21/F21Ck)</text><text transform="translate(231.50,406.60) matrix(1,0.002,0,1,0,0)" text-anchor="middle" class="t">bHLH</text><rect x="335.30" y="256.40" width="7.5" height="56.70" fill="url(#gbHLH)"/><text transform="translate(345.40,257.80) matrix(1,0.002,0,1,0,0)" class="g">4.00</text><text transform="translate(345.40,265.90) matrix(1,0.002,0,1,0,0)" class="g">3.00</text><text transform="translate(345.40,274.00) matrix(1,0.002,0,1,0,0)" class="g">2.00</text><text transform="translate(345.40,282.10) matrix(1,0.002,0,1,0,0)" class="g">1.00</text><text transform="translate(345.40,290.20) matrix(1,0.002,0,1,0,0)" class="g">0.00</text><text transform="translate(345.40,298.30) matrix(1,0.002,0,1,0,0)" class="g">-1.00</text><text transform="translate(345.40,306.40) matrix(1,0.002,0,1,0,0)" class="g">-2.00</text><text transform="translate(345.40,314.50) matrix(1,0.002,0,1,0,0)" class="g">-3.00</text><path d="M342.80,256.40h1.2M342.80,264.50h1.2M342.80,272.60h1.2M342.80,280.70h1.2M342.80,288.80h1.2M342.80,296.90h1.2M342.80,305.00h1.2M342.80,313.10h1.2" stroke="#555" stroke-width="0.5"/><rect x="398.70" y="223.70" width="36.10" height="8.04" fill="#0b55b6"/><rect x="434.80" y="223.70" width="36.10" height="8.04" fill="#f4c18a"/><rect x="398.70" y="231.74" width="36.10" height="8.04" fill="#6891af"/><rect x="434.80" y="231.74" width="36.10" height="8.04" fill="#f82c27"/><rect x="398.70" y="239.77" width="36.10" height="8.04" fill="#7095af"/><rect x="434.80" y="239.77" width="36.10" height="8.04" fill="#f6624b"/><rect x="398.70" y="247.81" width="36.10" height="8.04" fill="#d6d8a8"/><rect x="434.80" y="247.81" width="36.10" height="8.04" fill="#f66a50"/><rect x="398.70" y="255.85" width="36.10" height="8.04" fill="#c8cea9"/><rect x="434.80" y="255.85" width="36.10" height="8.04" fill="#f75441"/><rect x="398.70" y="263.88" width="36.10" height="8.04" fill="#d6d8a8"/><rect x="434.80" y="263.88" width="36.10" height="8.04" fill="#f5986f"/><rect x="398.70" y="271.92" width="36.10" height="8.04" fill="#8fa9ad"/><rect x="434.80" y="271.92" width="36.10" height="8.04" fill="#f59e73"/><rect x="398.70" y="279.96" width="36.10" height="8.04" fill="#91abad"/><rect x="434.80" y="279.96" width="36.10" height="8.04" fill="#f4b482"/><rect x="398.70" y="287.99" width="36.10" height="8.04" fill="#f58d68"/><rect x="434.80" y="287.99" width="36.10" height="8.04" fill="#f4bf89"/><rect x="398.70" y="296.03" width="36.10" height="8.04" fill="#f59c72"/><rect x="434.80" y="296.03" width="36.10" height="8.04" fill="#f5a276"/><rect x="398.70" y="304.07" width="36.10" height="8.04" fill="#f5966d"/><rect x="434.80" y="304.07" width="36.10" height="8.04" fill="#f59c72"/><rect x="398.70" y="312.11" width="36.10" height="8.04" fill="#f4ae7e"/><rect x="434.80" y="312.11" width="36.10" height="8.04" fill="#d6d8a8"/><rect x="398.70" y="320.14" width="36.10" height="8.04" fill="#f4bf89"/><rect x="434.80" y="320.14" width="36.10" height="8.04" fill="#f4bf89"/><rect x="398.70" y="328.18" width="36.10" height="8.04" fill="#f4c78f"/><rect x="434.80" y="328.18" width="36.10" height="8.04" fill="#f4c78f"/><rect x="398.70" y="336.22" width="36.10" height="8.04" fill="#f74b3c"/><rect x="434.80" y="336.22" width="36.10" height="8.04" fill="#346fb3"/><rect x="398.70" y="344.25" width="36.10" height="8.04" fill="#f58764"/><rect x="434.80" y="344.25" width="36.10" height="8.04" fill="#346fb3"/><rect x="398.70" y="352.29" width="36.10" height="8.04" fill="#f3e6a3"/><rect x="434.80" y="352.29" width="36.10" height="8.04" fill="#346fb3"/><rect x="398.70" y="360.33" width="36.10" height="8.04" fill="#f3da9b"/><rect x="434.80" y="360.33" width="36.10" height="8.04" fill="#87a5ad"/><rect x="398.70" y="368.36" width="36.10" height="8.04" fill="#eee7a6"/><rect x="434.80" y="368.36" width="36.10" height="8.04" fill="#6891af"/><path d="M398.70,231.74H470.90M398.70,239.77H470.90M398.70,247.81H470.90M398.70,255.85H470.90M398.70,263.88H470.90M398.70,271.92H470.90M398.70,279.96H470.90M398.70,287.99H470.90M398.70,296.03H470.90M398.70,304.07H470.90M398.70,312.11H470.90M398.70,320.14H470.90M398.70,328.18H470.90M398.70,336.22H470.90M398.70,344.25H470.90M398.70,352.29H470.90M398.70,360.33H470.90M398.70,368.36H470.90M434.80,223.70V376.40" stroke="#fff" stroke-opacity="0.6" stroke-width="0.8" fill="none"/><text transform="translate(472.50,231.20) matrix(1,0.002,0,1,0,0)" class="l">BolC02g008350.2J</text><text transform="translate(472.50,239.21) matrix(1,0.002,0,1,0,0)" class="l">BolC08g040650.2J</text><text transform="translate(472.50,247.21) matrix(1,0.002,0,1,0,0)" class="l">BolC08g051990.2J</text><text transform="translate(472.50,255.22) matrix(1,0.002,0,1,0,0)" class="l">BolC02g049960.2J</text><text transform="translate(472.50,263.22) matrix(1,0.002,0,1,0,0)" class="l">BolC06g042490.2J</text><text transform="translate(472.50,271.23) matrix(1,0.002,0,1,0,0)" class="l">BolC03g038350.2J</text><text transform="translate(472.50,279.23) matrix(1,0.002,0,1,0,0)" class="l">BolC06g050080.2J</text><text transform="translate(472.50,287.24) matrix(1,0.002,0,1,0,0)" class="l">BolC09g007420.2J</text><text transform="translate(472.50,295.24) matrix(1,0.002,0,1,0,0)" class="l">BolC08g050820.2J</text><text transform="translate(472.50,303.25) matrix(1,0.002,0,1,0,0)" class="l">BolC09g055420.2J</text><text transform="translate(472.50,311.26) matrix(1,0.002,0,1,0,0)" class="l">BolC05g004370.2J</text><text transform="translate(472.50,319.26) matrix(1,0.002,0,1,0,0)" class="l">BolC07g059300.2J</text><text transform="translate(472.50,327.27) matrix(1,0.002,0,1,0,0)" class="l">BolC08g027110.2J</text><text transform="translate(472.50,335.27) matrix(1,0.002,0,1,0,0)" class="l">BolC02g030750.2J</text><text transform="translate(472.50,343.28) matrix(1,0.002,0,1,0,0)" class="l">BolC09g003530.2J</text><text transform="translate(472.50,351.28) matrix(1,0.002,0,1,0,0)" class="l">BolC07g047190.2J</text><text transform="translate(472.50,359.29) matrix(1,0.002,0,1,0,0)" class="l">BolC07g040200.2J</text><text transform="translate(472.50,367.29) matrix(1,0.002,0,1,0,0)" class="l">BolC01g003870.2J</text><text transform="translate(472.50,375.30) matrix(1,0.002,0,1,0,0)" class="l">BolC06g034670.2J</text><path d="M388.50,235.76H398.70M388.50,243.79H398.70M388.50,235.76V243.79M391.60,251.83H398.70M391.60,259.87H398.70M391.60,251.83V259.87M395.10,275.94H398.70M395.10,283.98H398.70M395.10,275.94V283.98M392.30,267.90H398.70M392.30,279.96H395.10M392.30,267.90V279.96M388.80,255.85H391.60M388.80,273.93H392.30M388.80,255.85V273.93M385.70,239.77H388.50M385.70,264.89H388.80M385.70,239.77V264.89M382.10,227.72H398.70M382.10,252.33H385.70M382.10,227.72V252.33M392.30,300.05H398.70M392.30,308.09H398.70M392.30,300.05V308.09M388.80,292.01H398.70M388.80,304.07H392.30M388.80,292.01V304.07M392.30,324.16H398.70M392.30,332.20H398.70M392.30,324.16V332.20M388.80,316.12H398.70M388.80,328.18H392.30M388.80,316.12V328.18M385.70,298.04H388.80M385.70,322.15H388.80M385.70,298.04V322.15M388.50,340.23H398.70M388.50,348.27H398.70M388.50,340.23V348.27M392.30,364.34H398.70M392.30,372.38H398.70M392.30,364.34V372.38M388.50,356.31H398.70M388.50,368.36H392.30M388.50,356.31V368.36M385.30,344.25H388.50M385.30,362.34H388.50M385.30,344.25V362.34M382.50,310.10H385.70M382.50,353.29H385.30M382.50,310.10V353.29M379.30,240.02H382.10M379.30,331.70H382.50M379.30,240.02V331.70" stroke="#b0b0b0" stroke-width="0.75" fill="none"/><text transform="translate(420.25,381.80) rotate(-45)" text-anchor="end" class="c">Log2Ratio(F7/F7Ck)</text><text transform="translate(456.35,381.80) rotate(-45)" text-anchor="end" class="c">Log2Ratio(F21/F21Ck)</text><text transform="translate(452.60,424.80) matrix(1,0.002,0,1,0,0)" text-anchor="middle" class="t">MYB</text><rect x="526.00" y="274.80" width="7.5" height="57.00" fill="url(#gMYB)"/><text transform="translate(536.10,276.20) matrix(1,0.002,0,1,0,0)" class="g">4.00</text><text transform="translate(536.10,285.70) matrix(1,0.002,0,1,0,0)" class="g">3.00</text><text transform="translate(536.10,295.20) matrix(1,0.002,0,1,0,0)" class="g">2.00</text><text transform="translate(536.10,304.70) matrix(1,0.002,0,1,0,0)" class="g">1.00</text><text transform="translate(536.10,314.20) matrix(1,0.002,0,1,0,0)" class="g">0.00</text><text transform="translate(536.10,323.70) matrix(1,0.002,0,1,0,0)" class="g">-1.00</text><text transform="translate(536.10,333.20) matrix(1,0.002,0,1,0,0)" class="g">-2.00</text><path d="M533.50,274.80h1.2M533.50,284.30h1.2M533.50,293.80h1.2M533.50,303.30h1.2M533.50,312.80h1.2M533.50,322.30h1.2M533.50,331.80h1.2" stroke="#555" stroke-width="0.5"/></svg>
</body></html>
